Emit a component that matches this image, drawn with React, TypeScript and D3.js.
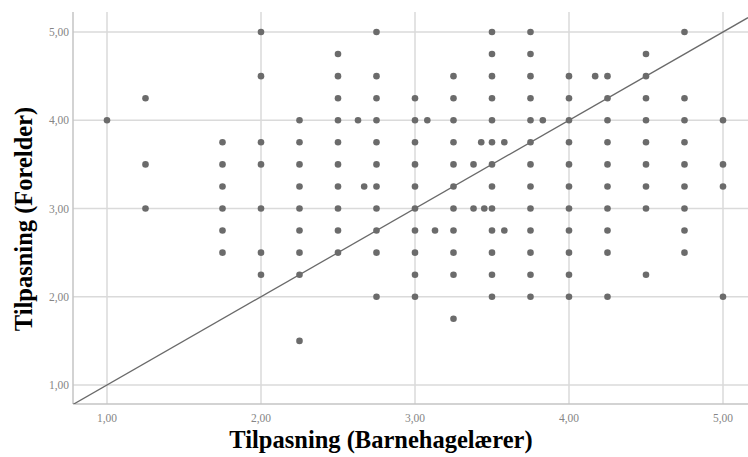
import React from "react";
import * as d3 from "d3";

// Teacher score columns and the parent scores observed at each of them
const barnehagelaererScores = [
  1.0, 1.25, 1.75, 2.0, 2.25, 2.5, 2.63, 2.67, 2.75, 3.0, 3.08, 3.13, 3.25,
  3.38, 3.43, 3.45, 3.5, 3.58, 3.75, 3.83, 4.0, 4.17, 4.25, 4.5, 4.75, 5.0,
];
const forelderScores = [
  [4.0],
  [4.25, 3.5, 3.0],
  [3.75, 3.5, 3.25, 3.0, 2.75, 2.5],
  [5.0, 4.5, 3.75, 3.5, 3.0, 2.5, 2.25],
  [4.0, 3.75, 3.5, 3.25, 3.0, 2.75, 2.5, 2.25, 1.5],
  [4.75, 4.5, 4.25, 4.0, 3.75, 3.5, 3.25, 3.0, 2.75, 2.5],
  [4.0],
  [3.25],
  [5.0, 4.5, 4.25, 4.0, 3.75, 3.5, 3.25, 3.0, 2.75, 2.5, 2.0],
  [4.25, 4.0, 3.75, 3.5, 3.25, 3.0, 2.75, 2.5, 2.25, 2.0],
  [4.0],
  [2.75],
  [4.5, 4.25, 4.0, 3.75, 3.5, 3.25, 3.0, 2.75, 2.5, 2.25, 1.75],
  [3.5, 3.0],
  [3.75],
  [3.0],
  [5.0, 4.75, 4.5, 4.25, 4.0, 3.75, 3.5, 3.25, 3.0, 2.75, 2.5, 2.25, 2.0],
  [3.75, 2.75],
  [5.0, 4.75, 4.5, 4.25, 4.0, 3.75, 3.5, 3.25, 3.0, 2.75, 2.5, 2.25, 2.0],
  [4.0],
  [4.5, 4.25, 4.0, 3.75, 3.5, 3.25, 3.0, 2.75, 2.5, 2.25, 2.0],
  [4.5],
  [4.5, 4.25, 4.0, 3.75, 3.5, 3.25, 3.0, 2.75, 2.5, 2.0],
  [4.75, 4.5, 4.25, 4.0, 3.75, 3.5, 3.25, 3.0, 2.25],
  [5.0, 4.25, 4.0, 3.75, 3.5, 3.25, 3.0, 2.75, 2.5],
  [4.0, 3.5, 3.25, 2.0],
];
const xTicks = [1, 2, 3, 4, 5];
const yTicks = [1, 2, 3, 4, 5];
const xTitle = "Tilpasning (Barnehagelærer)";
const yTitle = "Tilpasning (Forelder)";

const W = 748;
const H = 457;
const plot = { left: 73, right: 748, top: 12, bottom: 404 };

const x = d3
  .scaleLinear()
  .domain([1, 5])
  .range([107, 723]);
const y = d3
  .scaleLinear()
  .domain([1, 5])
  .range([385, 32]);

const fmt = (v: number) => d3.format(".2f")(v).replace(".", ",");

export default function App() {
  const points = barnehagelaererScores.flatMap((bx, i) =>
    forelderScores[i].map((fy) => ({ bx, fy }))
  );
  const xMin = x.invert(plot.left);
  const xMax = x.invert(plot.right);
  const refLine = d3
    .line<number>()
    .x((v) => x(v))
    .y((v) => y(v))([xMin, xMax]);

  return (
    <svg
      width={W}
      height={H}
      style={{ position: "absolute", left: 0, top: 0, display: "block", background: "#fff" }}
    >
      <defs>
        <clipPath id="plotArea">
          <rect
            x={plot.left}
            y={plot.top}
            width={plot.right - plot.left}
            height={plot.bottom - plot.top}
          />
        </clipPath>
      </defs>

      {/* grid */}
      <g stroke="#dadada" strokeWidth={1.5}>
        {xTicks.map((t) => (
          <line key={"gx" + t} x1={x(t)} x2={x(t)} y1={plot.top} y2={plot.bottom} />
        ))}
        {yTicks.map((t) => (
          <line key={"gy" + t} x1={plot.left} x2={plot.right} y1={y(t)} y2={y(t)} />
        ))}
      </g>

      {/* axis lines */}
      <g stroke="#c4c4c4" strokeWidth={1.5}>
        <line x1={plot.left} x2={plot.left} y1={plot.top} y2={plot.bottom} />
        <line x1={plot.left} x2={plot.right} y1={plot.bottom} y2={plot.bottom} />
      </g>

      {/* reference line y = x */}
      <path
        d={refLine ?? ""}
        fill="none"
        stroke="#6a6a6a"
        strokeWidth={1.3}
        clipPath="url(#plotArea)"
      />

      {/* points */}
      <g fill="#6b6b6b">
        {points.map((p, i) => (
          <circle key={i} cx={x(p.bx)} cy={y(p.fy)} r={3.3} />
        ))}
      </g>

      {/* tick labels */}
      <g fontFamily="'Liberation Serif', serif" fontSize={11.5} fill="#858585">
        {xTicks.map((t) => (
          <text key={"tx" + t} x={x(t)} y={422} textAnchor="middle">
            {fmt(t)}
          </text>
        ))}
        {yTicks.map((t) => (
          <text key={"ty" + t} x={69} y={y(t) + 4} textAnchor="end">
            {fmt(t)}
          </text>
        ))}
      </g>

      {/* axis titles */}
      <text
        x={381}
        y={448}
        textAnchor="middle"
        fontFamily="'Liberation Serif', 'Times New Roman', serif"
        fontWeight="bold"
        fontSize={24.5}
        fill="#000"
      >
        {xTitle}
      </text>
      <text
        transform={`translate(32, 219) rotate(-90)`}
        textAnchor="middle"
        fontFamily="'Liberation Serif', 'Times New Roman', serif"
        fontWeight="bold"
        fontSize={24.5}
        fill="#000"
      >
        {yTitle}
      </text>
    </svg>
  );
}
